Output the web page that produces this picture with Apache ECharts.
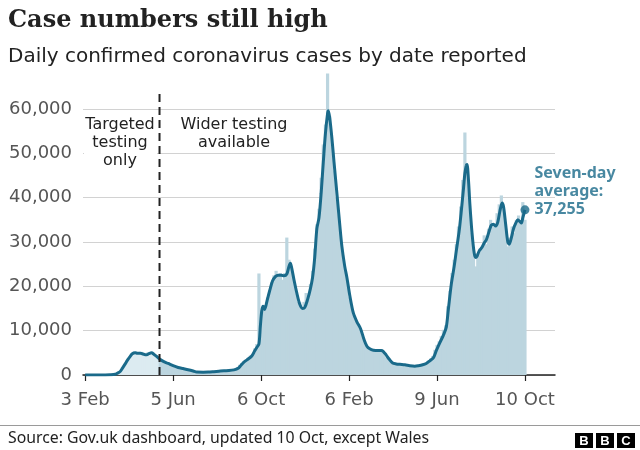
<!DOCTYPE html>
<html><head><meta charset="utf-8">
<script src="https://cdn.jsdelivr.net/npm/echarts@6/dist/echarts.min.js"></script>
<style>html,body{margin:0;padding:0;background:#fff}#c{width:640px;height:450px}</style>
</head><body><div id="c"></div>
<script>
// x values are days since 3 Feb 2020
const tickDays = [0, 123, 246, 369, 492, 615];
const tickLabels = ['3 Feb', '5 Jun', '6 Oct', '6 Feb', '9 Jun', '10 Oct'];
const testingDay = 104;          // wider testing available from mid-May 2020
const testingLineTop = 63500;    // dashed divider reaches a little above the top gridline

// seven-day average
const lineDays = [0,14,28,35,42,45,49,52,56,59,63,66,70,73,77,80,84,87,89,93,96,100,104,110,116,123,130,137,144,151,156,165,172,180,187,194,201,208,214,218,222,228,233,237,240,243,245,247,249,251,254,258,262,266,270,274,278,282,285,287,289,292,296,300,304,307,311,315,318,321,324,327,330,333,336,339,340,342,345,348,352,356,359,363,366,370,375,380,385,390,394,398,403,410,414,417,421,425,430,435,440,447,454,461,466,472,477,482,487,491,496,501,505,508,512,516,519,523,526,529,531,533,534,536,538,541,544,546,548,551,555,558,561,565,568,571,574,577,580,583,585,588,591,593,596,599,602,605,608,610,612,615];
const lineValues = [0,0,10,40,150,400,800,1500,2500,3300,4200,4800,5000,4900,4900,4800,4550,4600,4800,5000,4700,4200,3600,3000,2600,2100,1700,1450,1200,900,650,620,650,750,850,950,1000,1150,1500,2200,2900,3600,4300,5400,6200,7000,11000,14500,15500,14800,16500,19000,21200,22200,22500,22500,22400,22800,24500,25200,24000,21500,18500,16000,15000,15200,17000,19500,22000,26500,33000,35500,41000,48000,54500,59000,59600,58000,53500,48000,41000,34000,29000,24500,22000,18000,14000,12000,10500,8000,6500,5900,5600,5500,5500,5300,4500,3600,2700,2500,2400,2300,2100,2000,2100,2300,2600,3200,3900,5500,7300,9000,10800,15000,20500,24500,28000,32500,37000,42000,45500,47300,47500,44000,38500,32000,27500,26500,26800,28000,28800,29800,30500,32500,33800,34000,33600,34500,37000,38800,38000,34000,30000,29500,31000,33000,34200,35000,34600,34300,35500,37255];

// daily reported cases (sampled every third day)
const barDays = [0,3,6,9,12,15,18,21,24,27,30,33,36,39,42,45,48,51,54,57,60,63,66,69,72,75,78,81,84,87,90,93,96,99,102,105,108,111,114,117,120,123,126,129,132,135,138,141,144,147,150,153,156,159,162,165,168,171,174,177,180,183,186,189,192,195,198,201,204,207,210,213,216,219,222,225,228,231,234,237,240,243,246,249,252,255,258,261,264,267,270,273,276,279,282,285,288,291,294,297,300,303,306,309,312,315,318,321,324,327,330,333,336,339,342,345,348,351,354,357,360,363,366,369,372,375,378,381,384,387,390,393,396,399,402,405,408,411,414,417,420,423,426,429,432,435,438,441,444,447,450,453,456,459,462,465,468,471,474,477,480,483,486,489,492,495,498,501,504,507,510,513,516,519,522,525,528,531,534,537,540,543,546,549,552,555,558,561,564,567,570,573,576,579,582,585,588,591,594,597,600,603,606,609,612,615];
const barValues = [0,0,0,0,0,0,1,2,5,10,25,40,80,130,200,420,750,1100,1900,2700,3800,4100,4900,5300,5200,4800,5300,4700,4400,5200,5100,5000,4700,4100,3700,3300,3200,2900,2600,2400,2300,2000,1800,1600,1600,1400,1300,1200,1100,950,800,750,650,650,620,680,650,700,750,800,780,850,900,950,1000,950,1050,1100,1050,1250,1350,1800,2300,2700,3100,3500,3900,4400,4600,6000,7000,22900,14500,15800,15000,17500,19000,21000,22500,23500,22500,23000,21500,23000,31000,26000,24500,22000,19500,16500,16500,15000,16500,18500,18000,20500,23500,28500,34000,37500,44500,52000,56500,68000,58500,52000,46000,40000,36000,31000,27000,23500,21000,17500,15500,13500,12500,11500,10500,9000,7800,6800,6000,5900,5500,5800,5400,5500,5600,5000,4000,3800,3200,2600,2700,2500,2400,2500,2300,2200,2300,2000,2200,2000,1900,2200,2200,2400,2600,2800,3200,3700,4300,5700,6800,7600,8800,10200,11200,15500,19000,23000,26000,29500,33500,38000,44000,54700,47000,40000,32000,27000,24500,27500,28500,29000,31500,29500,33000,35000,33500,34000,36500,38500,40500,37500,33000,29000,31000,33500,32000,35000,36000,34500,39000,35000];

const TEAL = '#1a6a8a';
const BAR = '#bcd5df';
const BAR_EARLY = '#dcebf1';
const LABEL = '#555555';
const INK = '#222222';

const chart = echarts.init(document.getElementById('c'), null, {renderer: 'canvas'});
const lastDay = lineDays[lineDays.length - 1];
const lastVal = lineValues[lineValues.length - 1];

chart.setOption({
  animation: false,
  grid: {left: 83, right: 85, top: 109, bottom: 75, containLabel: false},
  xAxis: {
    type: 'value', min: -3, max: 657,
    axisLine: {show: true, lineStyle: {color: INK, width: 1.5}},
    axisTick: {show: true, customValues: tickDays, length: 6, lineStyle: {color: INK, width: 1.2}},
    axisLabel: {
      show: true, customValues: tickDays, margin: 16,
      color: LABEL, fontFamily: 'DejaVu Sans', fontSize: 18,
      formatter: v => tickLabels[tickDays.indexOf(v)]
    },
    splitLine: {show: false}
  },
  yAxis: {
    type: 'value', min: 0, max: 60000, interval: 10000,
    axisLine: {show: false}, axisTick: {show: false},
    axisLabel: {color: LABEL, fontFamily: 'DejaVu Sans', fontSize: 18, margin: 11,
      formatter: v => v.toLocaleString('en-GB')},
    splitLine: {lineStyle: {color: '#d2d2d2', width: 1}}
  },
  series: [
    {
      type: 'bar', clip: false, barWidth: 3.2, z: 2,
      data: barDays.map((d, i) => ({value: [d, barValues[i]], itemStyle: {color: d < testingDay ? BAR_EARLY : BAR}}))
    },
    {
      type: 'line', clip: false, z: 5, symbol: 'none', silent: true,
      lineStyle: {color: INK, width: 2, type: [8, 5]},
      data: [[testingDay, 0], [testingDay, testingLineTop]]
    },
    {
      type: 'line', showSymbol: false, smooth: 0.3, z: 3,
      lineStyle: {color: TEAL, width: 3},
      data: lineDays.map((d, i) => [d, lineValues[i]])
    },
    {
      type: 'scatter', z: 4, symbolSize: 9, itemStyle: {color: TEAL},
      data: [[lastDay, lastVal]],
      label: {
        show: true, position: 'right', distance: 5, align: 'left', verticalAlign: 'bottom', offset: [0, 9],
        color: TEAL, fontFamily: 'Noto Sans', fontWeight: 'bold', fontSize: 16, lineHeight: 18,
        formatter: () => 'Seven-day\naverage:\n' + lastVal.toLocaleString('en-GB')
      }
    }
  ],
  graphic: [
    {type: 'text', z: 10, x: 8, y: 21, style: {text: 'Case numbers still high', fill: INK, font: 'bold 24px "DejaVu Serif"', verticalAlign: 'middle'}},
    {type: 'text', z: 10, x: 8, y: 56.5, style: {text: 'Daily confirmed coronavirus cases by date reported', fill: INK, font: '20px "DejaVu Sans"', verticalAlign: 'middle'}},
    {type: 'rect', z: 1, shape: {x: 84, y: 114, width: 73, height: 60}, style: {fill: '#fff'}},
    {type: 'rect', z: 1, shape: {x: 172, y: 114, width: 124, height: 38}, style: {fill: '#fff'}},
    {type: 'text', z: 10, x: 120, y: 116, style: {text: 'Targeted\ntesting\nonly', fill: INK, font: '16px "DejaVu Sans"', align: 'center', verticalAlign: 'top', lineHeight: 18}},
    {type: 'text', z: 10, x: 234, y: 116, style: {text: 'Wider testing\navailable', fill: INK, font: '16px "DejaVu Sans"', align: 'center', verticalAlign: 'top', lineHeight: 18}},
    {type: 'line', z: 10, shape: {x1: 0, y1: 425.5, x2: 640, y2: 425.5}, style: {stroke: '#9a9a9a', lineWidth: 1}},
    {type: 'text', z: 10, x: 8, y: 438.5, style: {text: 'Source: Gov.uk dashboard, updated 10 Oct, except Wales', fill: INK, font: '15.8px "Noto Sans"', verticalAlign: 'middle'}},
    {type: 'rect', z: 10, shape: {x: 575, y: 433, width: 18, height: 15}, style: {fill: '#000'}},
    {type: 'rect', z: 10, shape: {x: 596, y: 433, width: 18, height: 15}, style: {fill: '#000'}},
    {type: 'rect', z: 10, shape: {x: 617, y: 433, width: 18, height: 15}, style: {fill: '#000'}},
    {type: 'text', z: 11, x: 584, y: 441, style: {text: 'B', fill: '#fff', font: 'bold 13px "Liberation Sans"', align: 'center', verticalAlign: 'middle'}},
    {type: 'text', z: 11, x: 605, y: 441, style: {text: 'B', fill: '#fff', font: 'bold 13px "Liberation Sans"', align: 'center', verticalAlign: 'middle'}},
    {type: 'text', z: 11, x: 626, y: 441, style: {text: 'C', fill: '#fff', font: 'bold 13px "Liberation Sans"', align: 'center', verticalAlign: 'middle'}}
  ]
});
</script>
</body></html>
